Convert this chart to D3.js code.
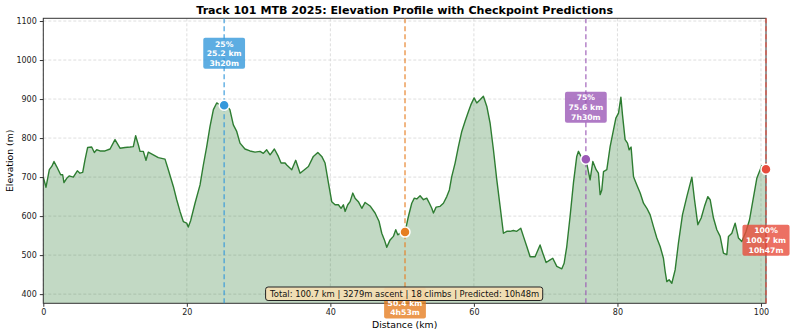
<!DOCTYPE html>
<html>
<head>
<meta charset="utf-8">
<script src="https://d3js.org/d3.v7.min.js"></script>
<style>
  body { margin: 0; background: #fff; }
  svg { font-family: "DejaVu Sans", sans-serif; }
</style>
</head>
<body>
<svg id="chart" width="793" height="335"></svg>
<script>
// distance along the track (km) and elevation (m)
const distKm = [0, 0.38, 0.84, 1.2, 1.49, 1.86, 2.42, 2.7, 2.88, 3.26, 3.6, 4.18, 4.74, 5.11, 5.49, 5.81, 6.18, 6.74, 7.11, 7.44,
  7.9, 8.6, 9.3, 9.99, 10.69, 11.39, 12.08, 12.54, 12.87, 13.24, 13.48, 13.94, 14.31, 14.63, 15.33, 16.03, 16.96, 17.42, 18.12, 18.59,
  19.05, 19.51, 19.98, 20.2, 20.54, 21.14, 21.84, 22.3, 22.77, 23.23, 23.7, 24.16, 24.63, 25.2, 25.7, 26.0, 26.48, 26.95, 27.41, 28.1,
  28.8, 29.5, 30.2, 30.66, 31.13, 31.6, 32.2, 32.75, 33.13, 33.69, 33.92, 34.62, 35.17, 35.78, 36.47, 36.94, 37.63, 38.25, 38.8, 39.26,
  39.73, 40.19, 40.66, 41.12, 41.49, 41.81, 42.05, 42.42, 42.75, 43.12, 43.44, 43.9, 44.38, 44.84, 45.53, 46.23, 46.79, 47.16, 47.53, 47.86,
  48.32, 48.78, 49.11, 49.39, 49.71, 50.4, 50.87, 51.34, 51.7, 52.04, 52.5, 52.97, 53.43, 53.8, 54.13, 54.36, 54.73, 55.29, 55.75, 56.22,
  56.58, 56.91, 57.38, 57.84, 58.31, 58.77, 59.24, 59.57, 60.03, 60.4, 60.86, 61.32, 61.8, 62.26, 62.72, 63.19, 63.65, 64.11, 64.58, 65.04,
  65.5, 65.97, 66.53, 66.9, 67.37, 67.83, 68.53, 69.22, 69.6, 70.06, 70.62, 70.99, 71.55, 72.25, 72.57, 72.94, 73.4, 73.87, 74.33, 74.57,
  75.04, 75.6, 76.19, 76.57, 77.03, 77.35, 77.59, 77.82, 78.06, 78.52, 78.98, 79.45, 79.78, 80.15, 80.48, 80.7, 81.07, 81.4, 81.63, 81.9,
  82.24, 82.7, 83.17, 83.63, 84.1, 84.56, 85.02, 85.49, 85.95, 86.41, 86.65, 86.88, 87.2, 87.58, 88.04, 88.5, 89.06, 89.67, 90.37, 90.74,
  91.2, 91.67, 92.13, 92.6, 92.92, 93.38, 93.85, 94.31, 94.77, 95.24, 95.47, 95.94, 96.4, 96.86, 97.33, 97.9, 98.4, 98.73, 99.42, 100.1,
  100.7];
const elevM = [700, 674, 719, 728, 740, 727, 706, 706, 686, 697, 703, 700, 716, 710, 712, 744, 776, 777, 763, 770,
  767, 767, 772, 796, 774, 776, 777, 778, 806, 783, 766, 766, 743, 764, 757, 750, 746, 719, 676, 642,
  612, 586, 582, 572, 589, 633, 680, 731, 778, 830, 873, 890, 885, 884, 880, 873, 834, 817, 787, 772,
  767, 764, 766, 761, 770, 757, 772, 753, 736, 736, 731, 719, 743, 710, 720, 727, 753, 763, 753, 736,
  685, 637, 629, 629, 620, 629, 612, 629, 637, 659, 646, 637, 620, 635, 626, 608, 586, 556, 539, 520,
  539, 548, 565, 552, 556, 559, 599, 633, 646, 644, 652, 642, 646, 633, 620, 608, 623, 625, 633, 650,
  667, 701, 736, 778, 817, 843, 868, 885, 903, 890, 898, 907, 881, 838, 770, 693, 625, 556, 561, 561,
  563, 561, 569, 548, 522, 496, 496, 526, 505, 481, 488, 492, 471, 465, 479, 522, 599, 685, 753, 766,
  749, 746, 693, 740, 719, 710, 655, 667, 714, 719, 778, 821, 851, 864, 905, 860, 796, 787, 770, 777,
  701, 680, 659, 633, 620, 603, 573, 544, 522, 492, 458, 432, 437, 428, 462, 531, 603, 650, 700, 642,
  578, 595, 625, 650, 642, 595, 565, 548, 505, 501, 548, 556, 582, 544, 535, 560, 590, 625, 697, 729,
  720];

// checkpoints
const cpPct = ["25%", "50%", "75%", "100%"];
const cpKm = [25.2, 50.4, 75.6, 100.7];
const cpTime = ["3h20m", "4h53m", "7h30m", "10h47m"];
const cpColor = ["#3498db", "#e67e22", "#9b59b6", "#e74c3c"];

const xTicks = [0, 20, 40, 60, 80, 100];
const yTicks = [400, 500, 600, 700, 800, 900, 1000, 1100];
const statsText = "Total: 100.7 km | 3279m ascent | 18 climbs | Predicted: 10h48m";
const titleText = "Track 101 MTB 2025: Elevation Profile with Checkpoint Predictions";

const svg = d3.select("#chart");
const pL = 43.3, pR = 766, pT = 18.3, pB = 303.3;

const xs = d3.scaleLinear().domain([0, 100.7]).range([pL, pR]);
const ys = d3.scaleLinear().domain([376.5, 1107]).range([pB, pT]);

const pts = distKm.map((d, i) => ({ d: d, e: elevM[i] }));

// grid
const grid = svg.append("g").attr("stroke", "#d6d6d6").attr("stroke-width", 0.8)
  .attr("stroke-dasharray", "3,2");
grid.selectAll(".gx").data(xTicks).enter().append("line")
  .attr("x1", d => xs(d)).attr("x2", d => xs(d)).attr("y1", pT).attr("y2", pB);
grid.selectAll(".gy").data(yTicks).enter().append("line")
  .attr("x1", pL).attr("x2", pR).attr("y1", d => ys(d)).attr("y2", d => ys(d));

// area + line
const area = d3.area().x(p => xs(p.d)).y0(pB).y1(p => ys(p.e));
const line = d3.line().x(p => xs(p.d)).y(p => ys(p.e));
svg.append("path").datum(pts).attr("d", area)
  .attr("fill", "#2e7d32").attr("fill-opacity", 0.29);
svg.append("path").datum(pts).attr("d", line)
  .attr("fill", "none").attr("stroke", "#2e7d32").attr("stroke-width", 1.4)
  .attr("stroke-linejoin", "round");

// frame
svg.append("rect").attr("x", pL).attr("y", pT)
  .attr("width", pR - pL).attr("height", pB - pT)
  .attr("fill", "none").attr("stroke", "#333").attr("stroke-width", 1);

// checkpoint lines
svg.selectAll(".cpl").data(cpKm).enter().append("line")
  .attr("x1", d => xs(d)).attr("x2", d => xs(d)).attr("y1", pT).attr("y2", pB)
  .attr("stroke", (d, i) => cpColor[i]).attr("stroke-opacity", 0.75)
  .attr("stroke-width", 1.5).attr("stroke-dasharray", "5,3");

// axes
const xAxis = d3.axisBottom(xs).tickValues(xTicks).tickSize(3.5).tickPadding(3);
const yAxis = d3.axisLeft(ys).tickValues(yTicks).tickSize(3.5).tickPadding(3).tickFormat(d3.format("d"));
const gx = svg.append("g").attr("transform", `translate(0,${pB})`).call(xAxis);
const gy = svg.append("g").attr("transform", `translate(${pL},0)`).call(yAxis);
[gx, gy].forEach(g => {
  g.select(".domain").remove();
  g.selectAll("line").attr("stroke", "#333");
  g.selectAll("text").attr("font-size", "8px").attr("fill", "#222")
    .attr("font-family", "DejaVu Sans, sans-serif");
});

// markers
svg.selectAll(".cpm").data(cpKm).enter().append("circle")
  .attr("cx", d => xs(d))
  .attr("cy", d => ys(elevM[d3.minIndex(distKm, k => Math.abs(k - d))]))
  .attr("r", 5).attr("fill", (d, i) => cpColor[i])
  .attr("stroke", "#fff").attr("stroke-width", 1.5);

// checkpoint labels
cpKm.forEach((km, i) => {
  const my = ys(elevM[d3.minIndex(distKm, k => Math.abs(k - km))]);
  const cy = my + (i % 2 === 0 ? -52 : 71);
  const g = svg.append("g");
  const lines = [cpPct[i], km.toFixed(1) + " km", cpTime[i]];
  const t = g.append("text").attr("text-anchor", "middle")
    .attr("font-size", "7.7px").attr("font-weight", "bold").attr("fill", "#fff");
  lines.forEach((s, j) => {
    t.append("tspan").attr("x", xs(km)).attr("y", cy + (j - 1) * 9.6 + 2.8).text(s);
  });
  const bb = t.node().getBBox();
  g.insert("rect", "text")
    .attr("x", bb.x - 3.5).attr("y", cy - 15.5).attr("width", bb.width + 7).attr("height", 31)
    .attr("rx", 2).attr("fill", cpColor[i]).attr("fill-opacity", 0.8);
});

// stats box
const sg = svg.append("g");
const st = sg.append("text").attr("x", (pL + pR) / 2).attr("y", 296.9)
  .attr("text-anchor", "middle").attr("font-size", "8.4px").attr("fill", "#111").text(statsText);
const sb = st.node().getBBox();
sg.insert("rect", "text").attr("x", sb.x - 3.5).attr("y", 287).attr("width", sb.width + 7).attr("height", 13.5)
  .attr("rx", 2.5).attr("fill", "#f5deb3").attr("fill-opacity", 0.9)
  .attr("stroke", "#222").attr("stroke-width", 1);

// titles
svg.append("text").attr("x", (pL + pR) / 2).attr("y", 13.5).attr("text-anchor", "middle")
  .attr("font-size", "11.1px").attr("font-weight", "bold").text(titleText);
svg.append("text").attr("x", (pL + pR) / 2).attr("y", 328).attr("text-anchor", "middle")
  .attr("font-size", "9.3px").text("Distance (km)");
svg.append("text").attr("transform", "rotate(-90)").attr("x", -(pT + pB) / 2).attr("y", 13)
  .attr("text-anchor", "middle").attr("font-size", "9.3px").text("Elevation (m)");
</script>
</body>
</html>
